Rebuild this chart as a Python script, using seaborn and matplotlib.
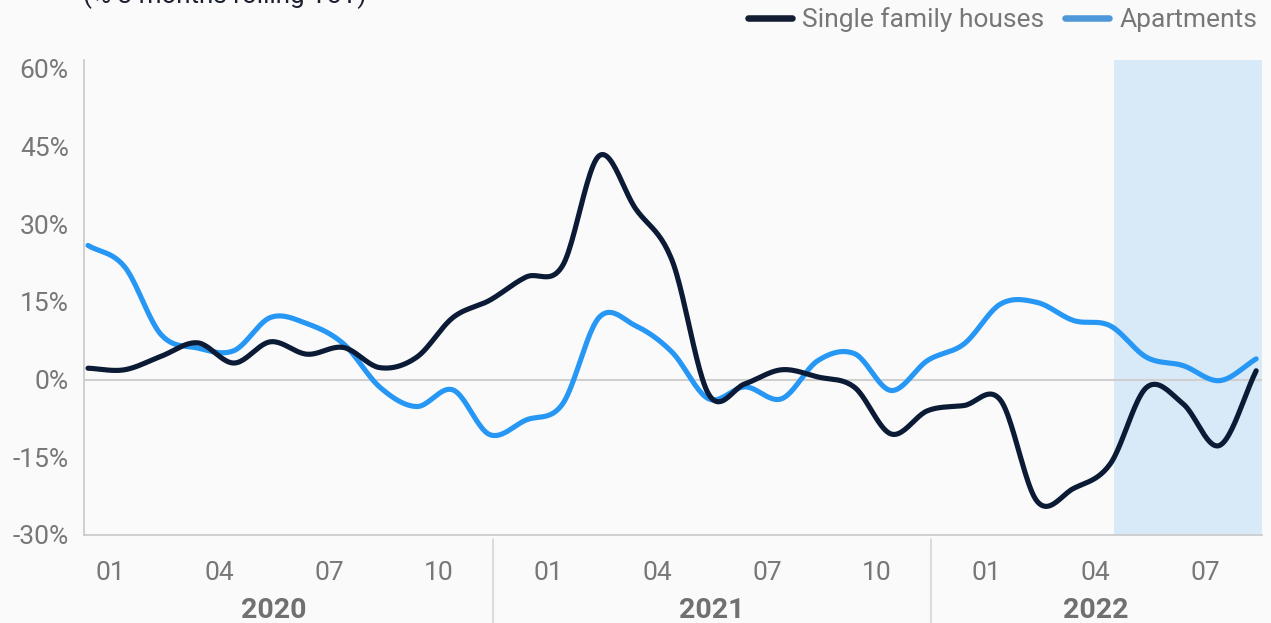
import numpy as np
import pandas as pd
import matplotlib
matplotlib.use("Agg")
import matplotlib.pyplot as plt
import seaborn as sns
from matplotlib.lines import Line2D
from matplotlib.transforms import blended_transform_factory

# ---------------- data ----------------
# monthly observations (index 0 = start of Jan 2020, 32 = end of Aug 2022)
month_index = list(range(33))
single_family = [2.2, 1.9, 4.5, 7.1, 3.2, 7.3, 4.9, 6.2, 2.3, 4.3, 12.0, 15.3, 19.8,
                 22.0, 43.2, 33.0, 23.0, -2.8, -0.8, 1.9, 0.5, -1.5, -10.5, -6.0,
                 -5.0, -4.0, -23.5, -21.0, -16.3, -1.5, -4.7, -12.7, 1.7]
apartments = [25.9, 21.8, 8.7, 6.1, 5.6, 12.0, 10.8, 6.9, -1.5, -5.2, -2.0, -10.6, -7.8,
              -4.7, 12.0, 10.4, 5.3, -3.7, -1.4, -3.7, 3.7, 5.0, -2.1, 3.7,
              6.9, 14.6, 14.9, 11.4, 10.4, 4.3, 2.7, -0.2, 4.0]
series_names = ["Single family houses", "Apartments"]
tick_months = [0, 3, 6, 9, 12, 15, 18, 21, 24, 27, 30]
tick_labels = ["01", "04", "07", "10", "01", "04", "07", "10", "01", "04", "07"]
years = ["2020", "2021", "2022"]
year_first_last = [(0, 9), (12, 21), (24, 30)]
y_ticks = [-30, -15, 0, 15, 30, 45, 60]
forecast_start = 28.1
title = "(% 3 months rolling YoY)"

colors = {"Single family houses": "#0b1a35", "Apartments": "#2697f5"}
legend_colors = {"Single family houses": "#131c33", "Apartments": "#4e97d8"}


def catmull_rom(x, y, n=24):
    x = np.asarray(x, float)
    y = np.asarray(y, float)
    m = np.empty_like(y)
    m[1:-1] = (y[2:] - y[:-2]) / 2.0
    m[0] = y[1] - y[0]
    m[-1] = y[-1] - y[-2]
    xs, ys = [], []
    for i in range(len(y) - 1):
        t = np.linspace(0, 1, n, endpoint=False)
        h00 = 2 * t**3 - 3 * t**2 + 1
        h10 = t**3 - 2 * t**2 + t
        h01 = -2 * t**3 + 3 * t**2
        h11 = t**3 - t**2
        ys.append(h00 * y[i] + h10 * m[i] + h01 * y[i + 1] + h11 * m[i + 1])
        xs.append(x[i] + t * (x[i + 1] - x[i]))
    xs.append([x[-1]])
    ys.append([y[-1]])
    return np.concatenate(xs), np.concatenate(ys)


frames = []
for name, vals in zip(series_names, [single_family, apartments]):
    xs, ys = catmull_rom(month_index, vals)
    frames.append(pd.DataFrame({"x": xs, "value": ys, "series": name}))
df = pd.concat(frames, ignore_index=True)

# ---------------- figure ----------------
sns.set_theme(style="white")
plt.rcParams["font.family"] = ["Roboto", "DejaVu Sans"]
BG = "#fafafa"
GREY = "#777777"
FS = 19

fig = plt.figure(figsize=(12.71, 6.23), dpi=100, facecolor=BG)
ax = fig.add_axes([84 / 1271, 1 - 535 / 623, (1262 - 84) / 1271, (535 - 60) / 623])
ax.set_facecolor(BG)

ax.axvspan(forecast_start, 32.2, color="#d8e9f8", zorder=0, lw=0)
ax.axhline(0, color="#cfcfcf", lw=1.5, zorder=1)

sns.lineplot(data=df, x="x", y="value", hue="series", palette=colors,
             hue_order=series_names[::-1], linewidth=3.7, sort=False,
             estimator=None, legend=False, ax=ax, zorder=3)
for ln in ax.lines:
    ln.set_solid_capstyle("round")
    ln.set_solid_joinstyle("round")

ax.set_xlim(-0.11, 32.16)
ax.set_ylim(-30, 61.7)
ax.set_xlabel("")
ax.set_ylabel("")

for s in ["top", "right"]:
    ax.spines[s].set_visible(False)
for s in ["left", "bottom"]:
    ax.spines[s].set_color("#cccccc")
    ax.spines[s].set_linewidth(1.3)

ax.set_yticks(y_ticks)
ax.set_yticklabels([f"{v}%" for v in y_ticks])
tick_pos = [m + 0.6 for m in tick_months]
ax.set_xticks(tick_pos)
ax.set_xticklabels(tick_labels)
ax.tick_params(axis="y", length=0, pad=11, labelsize=FS, labelcolor=GREY)
ax.tick_params(axis="x", length=0, pad=18.5, labelsize=FS, labelcolor=GREY)

trans = blended_transform_factory(ax.transData, ax.transAxes)
for (a, b), yr in zip(year_first_last, years):
    ax.text((a + b) / 2 + 0.6, -0.158, yr, transform=trans, ha="center", va="center",
            fontsize=20.5, fontweight="bold", color="#707070")
for (_, b), (a2, _) in zip(year_first_last[:-1], year_first_last[1:]):
    xsep = (b + a2) / 2 + 0.6
    ax.add_line(Line2D([xsep, xsep], [-0.008, -0.2], transform=trans, color="#d5d5d5",
                       lw=1.2, clip_on=False))

handles = [Line2D([0], [0], color=legend_colors[n], lw=4.7, solid_capstyle="round")
           for n in series_names]
fig.legend(handles, series_names, loc="center right", bbox_to_anchor=(1257 / 1271, 1 - 20 / 623),
           ncol=2, frameon=False, fontsize=FS, labelcolor=GREY, handlelength=1.67,
           handletextpad=0.4, columnspacing=0.76, borderpad=0, borderaxespad=0)

fig.text(83 / 1271, 1 - 3 / 623, title, ha="left", va="baseline", fontsize=18.7, color="#1b1f2e")

fig.savefig("out.png", dpi=100, facecolor=BG)
